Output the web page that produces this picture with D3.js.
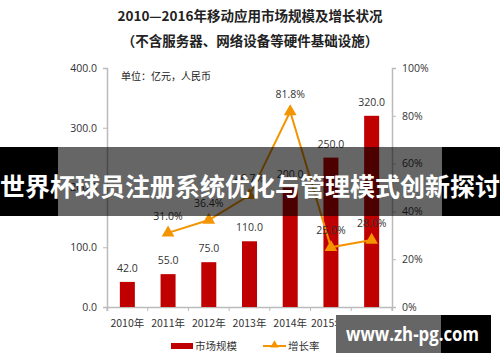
<!DOCTYPE html>
<html>
<head>
<meta charset="utf-8">
<script src="https://cdn.jsdelivr.net/npm/d3@7"></script>
<style>
body{margin:0;background:#fff}
text{font-family:"Noto Sans CJK SC","Noto Sans",sans-serif}
</style>
</head>
<body>
<div id="chart"></div>
<script>
var years = ["2010年","2011年","2012年","2013年","2014年","2015年E","2016年E"]
var market = [42,55,75,110,200,250,320]
var growth = [null,31.0,36.4,46.7,81.8,25.0,28.0]
var leftTicks = [0,100,200,300,400]
var rightTicks = [0,20,40,60,80,100]

var w = 500, h = 362
var svg = d3.select("#chart").append("svg").attr("width",w).attr("height",h)

var x = d3.scaleBand().domain(years).range([107,392])
var y = d3.scaleLinear().domain([0,400]).range([307,68])
var y2 = d3.scaleLinear().domain([0,100]).range([307,68])

// titles
svg.append("text").attr("x",250).attr("y",21).attr("text-anchor","middle")
	.attr("font-size",13.5).attr("font-weight","bold").attr("fill","#222")
	.text("2010—2016年移动应用市场规模及增长状况")
svg.append("text").attr("x",250).attr("y",46).attr("text-anchor","middle")
	.attr("font-size",13.5).attr("font-weight","bold").attr("fill","#222")
	.text("（不含服务器、网络设备等硬件基础设施）")

// axes
var gl = svg.append("g").attr("transform","translate(107,0)")
	.call(d3.axisLeft(y).tickValues(leftTicks).tickFormat(d3.format(".1f")).tickSize(4).tickPadding(6))
var gr = svg.append("g").attr("transform","translate(392,0)")
	.call(d3.axisRight(y2).tickValues(rightTicks).tickFormat(function(d){return d+"%"}).tickSize(4).tickPadding(6))
var gx = svg.append("g").attr("transform","translate(0,307)")
	.call(d3.axisBottom(x).tickSize(4).tickPadding(9))
gx.selectAll(".tick line").attr("transform","translate("+(-x.bandwidth()/2)+",0)")
gx.append("line").attr("x1",392).attr("x2",392).attr("y1",0).attr("y2",4).attr("stroke","#bbb")
;[gl,gr,gx].forEach(function(g){
	g.select(".domain").attr("stroke","#bbb").attr("stroke-width",1.5)
	g.selectAll(".tick line").attr("stroke","#bbb")
	g.selectAll(".tick text").attr("font-size",10.5).attr("fill","#333")
		.style("font-family","'Open Sans','Noto Sans CJK SC',sans-serif")
})
gx.selectAll(".tick text").style("font-family","'Noto Sans CJK SC',sans-serif").attr("font-size",10.5)

svg.append("text").attr("x",121).attr("y",80).attr("font-size",10).attr("fill","#222").text("单位：亿元，人民币")

// bars
var bw = 15
svg.selectAll(".bar").data(market).enter().append("rect")
	.attr("x",function(d,i){return x(years[i])+x.bandwidth()/2-bw/2})
	.attr("y",function(d){return y(d)})
	.attr("width",bw)
	.attr("height",function(d){return y(0)-y(d)})
	.attr("fill","#c00000")
svg.selectAll(".blab").data(market).enter().append("text")
	.attr("x",function(d,i){return x(years[i])+x.bandwidth()/2})
	.attr("y",function(d){return y(d)-10})
	.attr("text-anchor","middle").attr("font-size",10.5).attr("fill","#333")
	.style("font-family","'Open Sans',sans-serif")
	.text(function(d){return d3.format(".1f")(d)})

// growth line
var pts = growth.map(function(d,i){return {v:d,k:years[i]}}).filter(function(d){return d.v!==null})
var line = d3.line().x(function(d){return x(d.k)+x.bandwidth()/2}).y(function(d){return y2(d.v)})
svg.append("path").datum(pts).attr("d",line).attr("fill","none").attr("stroke","#f39400").attr("stroke-width",2)
var tri = d3.symbol().type(d3.symbolTriangle).size(70)
svg.selectAll(".mk").data(pts).enter().append("path")
	.attr("d",tri).attr("fill","#f39400")
	.attr("transform",function(d){return "translate("+(x(d.k)+x.bandwidth()/2)+","+y2(d.v)+")"})
svg.selectAll(".glab").data(pts).enter().append("text")
	.attr("x",function(d){return x(d.k)+x.bandwidth()/2})
	.attr("y",function(d){return y2(d.v)-13})
	.attr("text-anchor","middle").attr("font-size",10.5).attr("fill","#333")
	.style("font-family","'Open Sans',sans-serif")
	.text(function(d){return d3.format(".1f")(d.v)+"%"})

// legend
svg.append("rect").attr("x",171).attr("y",343).attr("width",22).attr("height",6).attr("fill","#c00000")
svg.append("text").attr("x",195).attr("y",350).attr("font-size",10.5).attr("fill","#333").text("市场规模")
svg.append("line").attr("x1",263).attr("x2",286).attr("y1",346).attr("y2",346).attr("stroke","#f39400").attr("stroke-width",2)
svg.append("path").attr("d",d3.symbol().type(d3.symbolTriangle).size(30)).attr("fill","#f39400").attr("transform","translate(274.5,345)")
svg.append("text").attr("x",288).attr("y",350).attr("font-size",10.5).attr("fill","#333").text("增长率")

// banner overlay
svg.append("rect").attr("x",0).attr("y",147).attr("width",500).attr("height",69).attr("fill","#000")
	.attr("fill-opacity",0.6)
svg.append("rect").attr("x",0).attr("y",147).attr("width",58).attr("height",69).attr("fill","#000")
svg.append("rect").attr("x",442).attr("y",147).attr("width",58).attr("height",69).attr("fill","#000")
svg.append("text").attr("x",250).attr("y",196).attr("text-anchor","middle")
	.attr("font-size",25).attr("font-weight","bold").attr("fill","#fff")
	.text("世界杯球员注册系统优化与管理模式创新探讨")

// watermark
svg.append("rect").attr("x",336).attr("y",315).attr("width",105).attr("height",38).attr("fill","#666")
svg.append("rect").attr("x",441).attr("y",315).attr("width",50).attr("height",38).attr("fill","#000")
svg.append("text").attr("x",346).attr("y",341).attr("font-size",20).attr("font-weight","bold").attr("fill","#fff")
	.attr("textLength",133).attr("lengthAdjust","spacingAndGlyphs")
	.style("font-family","'Open Sans','DejaVu Sans',sans-serif")
	.text("www.zh-pg.com")
</script>
</body>
</html>
